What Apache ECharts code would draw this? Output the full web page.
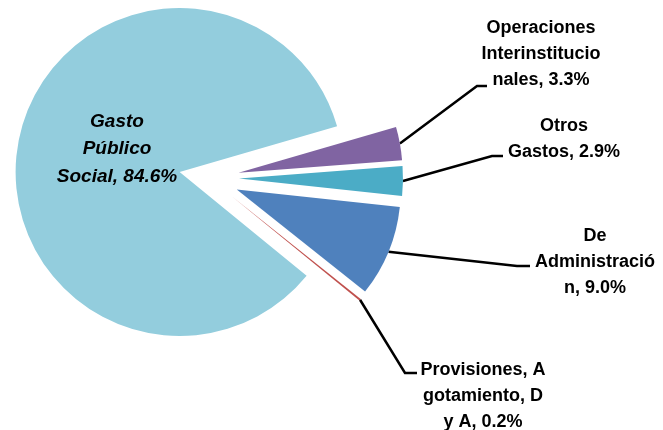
<!DOCTYPE html>
<html>
<head>
<meta charset="utf-8">
<script src="https://cdn.jsdelivr.net/npm/echarts@6/dist/echarts.min.js"></script>
<style>html,body{margin:0;padding:0;background:#fff}#c{width:663px;height:430px}</style>
</head>
<body>
<div id="c"></div>
<script>
// ---- data ----
const categories = ['Operaciones Interinstitucionales', 'Otros Gastos', 'De Administración', 'Provisiones, Agotamiento, D y A', 'Gasto Público Social'];
const values = [3.3, 2.9, 9.0, 0.2, 84.6];
// wrapped label pieces (as wrapped in the original), value appended to the last line
const labelParts = [
  ['Operaciones', 'Interinstitucio', 'nales'],
  ['Otros', 'Gastos'],
  ['De', 'Administració', 'n'],
  ['Provisiones, A', 'gotamiento, D', 'y A'],
  ['Gasto', 'Público', 'Social']
];
const colors = ['#8064A2', '#4BACC6', '#4F81BD', '#C0504D', '#93CDDD'];

// ---- layout ----
const baseCenter = [209, 178];
const radius = 164;
const explode = 30;
const startAngle = 16.2;
const labelPos = [[541, 54], [564, 139], [595, 262], [483, 396], [117, 149]];
const lineBend = [[477, 86, 487], [492, 156, 503], [517, 266, 530], [405, 373, 417], null];

const total = values.reduce((a, b) => a + b, 0);
function midAngle(i) {
  let acc = 0;
  for (let j = 0; j < i; j++) acc += values[j];
  const a0 = startAngle - acc / total * 360;
  const a1 = a0 - values[i] / total * 360;
  return (a0 + a1) / 2 * Math.PI / 180;
}
function labelText(i) {
  const parts = labelParts[i].slice();
  parts[parts.length - 1] += ', ' + values[i].toFixed(1) + '%';
  return parts.join('\n');
}

const chart = echarts.init(document.getElementById('c'), null, { renderer: 'canvas' });
const series = values.map((v, i) => {
  const m = midAngle(i);
  const cx = baseCenter[0] + explode * Math.cos(m);
  const cy = baseCenter[1] - explode * Math.sin(m);
  const inside = i === 4;
  return {
    type: 'pie',
    radius: radius,
    center: [cx, cy],
    startAngle: startAngle,
    clockwise: true,
    animation: false,
    avoidLabelOverlap: false,
    silent: true,
    z: 2,
    data: values.map((vv, j) => ({
      value: vv,
      name: categories[j],
      itemStyle: { color: j === i ? colors[j] : 'rgba(0,0,0,0)' },
      label: { show: j === i },
      labelLine: { show: j === i && !inside }
    })),
    label: {
      position: inside ? 'inside' : 'outside',
      formatter: () => labelText(i),
      color: '#000',
      fontFamily: 'Liberation Sans',
      fontWeight: 'bold',
      fontStyle: inside ? 'italic' : 'normal',
      fontSize: inside ? 19 : 18,
      lineHeight: inside ? 27.5 : 26,
      align: 'center'
    },
    labelLine: { lineStyle: { color: '#000', width: 2.5 }, length: 10, length2: 10 },
    labelLayout: (p) => {
      if (p.dataIndex !== i) return {};
      const res = { x: labelPos[i][0], y: labelPos[i][1], align: 'center', verticalAlign: 'middle' };
      if (lineBend[i] && p.labelLinePoints) {
        const b = lineBend[i];
        res.labelLinePoints = [p.labelLinePoints[0], [b[0], b[1]], [b[2], b[1]]];
      }
      return res;
    }
  };
});
chart.setOption({ backgroundColor: '#fff', series: series });
</script>
</body>
</html>
